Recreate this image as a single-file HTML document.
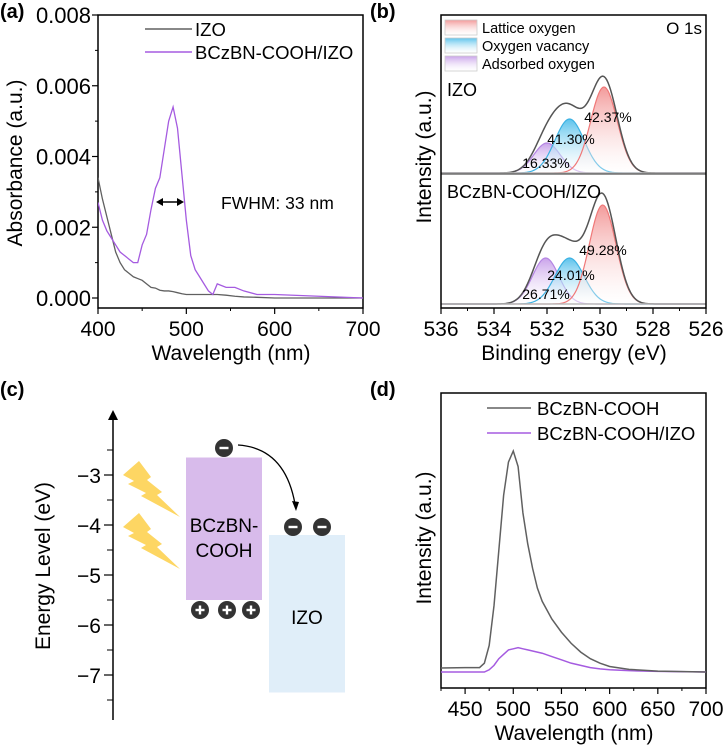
<!DOCTYPE html>
<html><head><meta charset="utf-8"><style>
html,body{margin:0;padding:0;background:#fff}
svg{display:block;font-family:"Liberation Sans",sans-serif}
</style></head><body>
<svg id="fig" width="727" height="749" viewBox="0 0 727 749" xmlns="http://www.w3.org/2000/svg">
<defs>
<linearGradient id="gL" x1="0" y1="0" x2="0" y2="1"><stop offset="0" stop-color="#f39a9a"/><stop offset="1" stop-color="#fff" stop-opacity="0.3"/></linearGradient>
<linearGradient id="gV" x1="0" y1="0" x2="0" y2="1"><stop offset="0" stop-color="#5cc3ec"/><stop offset="1" stop-color="#fff" stop-opacity="0.3"/></linearGradient>
<linearGradient id="gA" x1="0" y1="0" x2="0" y2="1"><stop offset="0" stop-color="#c9a2ea"/><stop offset="1" stop-color="#fff" stop-opacity="0.3"/></linearGradient>
</defs>
<g id="pa"></g>
<g id="pb"></g>
<g id="pc"></g>
<g id="pd"></g>
</svg>
<script>
// Panel a data
const aWl = [400,405,410,415,420,425,430,435,440,445,450,455,460,465,470,475,480,485,490,495,500,505,510,515,520,525,530,535,545,555,565,580,600,650,700];
const aIZO = [0.0034,0.0028,0.0023,0.0018,0.0013,0.0010,0.0008,0.0007,0.0006,0.00055,0.0005,0.0004,0.0003,0.00028,0.00022,0.0002,0.0002,0.00018,0.00015,0.00012,0.0001,0.0001,0.0001,0.0001,0.0001,0.0001,0.0001,0.0001,0.00008,0.00005,0.00003,0.00002,0.0,0.0,0.0];
const aBCz = [0.0027,0.0022,0.0019,0.0017,0.0015,0.0013,0.0012,0.0011,0.0010,0.0010,0.0015,0.0018,0.0025,0.0031,0.0034,0.0042,0.0050,0.0054,0.0048,0.0035,0.0022,0.0012,0.0008,0.0006,0.0004,0.0002,0.0001,0.0004,0.0003,0.0003,0.0002,0.0001,0.0001,0.00005,0.0];
const aYTicks = ["0.000","0.002","0.004","0.006","0.008"];
const aXTicks = [400,500,600,700];
// Panel b data (Gaussian fit component parameters)
const bComps = ["Lattice oxygen","Oxygen vacancy","Adsorbed oxygen"];
const bCenterIZO = [529.85,531.15,532.0];
const bHeightIZO = [86,54,30];
const bCenterBCz = [529.9,531.15,532.05];
const bHeightBCz = [99,46,46];
const bSigma = [0.5,0.55,0.5];
const bPctIZO = ["42.37%","41.30%","16.33%"];
const bPctBCz = ["49.28%","24.01%","26.71%"];
const bXTicks = [536,534,532,530,528,526];
// Panel c data
const cTicks = [-3,-4,-5,-6,-7];
const cBCz = [-2.65,-5.5];
const cIZO = [-4.2,-7.35];
// Panel d data
const dWl = [425,450,465,470,475,480,485,490,495,500,505,510,515,520,525,530,540,550,560,570,580,590,600,620,650,700];
const dBCz = [0.018,0.02,0.02,0.04,0.12,0.3,0.55,0.8,0.95,1.0,0.93,0.72,0.58,0.47,0.38,0.32,0.24,0.18,0.13,0.09,0.06,0.04,0.025,0.012,0.004,0.0];
const dBCzIZO = [0.0,0.0,0.0,0.0,0.01,0.03,0.06,0.08,0.1,0.105,0.11,0.105,0.1,0.095,0.09,0.085,0.07,0.055,0.04,0.03,0.02,0.014,0.01,0.006,0.003,0.0];
const dXTicks = [450,500,550,600,650,700];

const NS="http://www.w3.org/2000/svg";
const TK=21, TT=21;
function mk(parent,tag,attrs,text){const e=document.createElementNS(NS,tag);for(const k in attrs)e.setAttribute(k,attrs[k]);if(text!==undefined)e.textContent=text;parent.appendChild(e);return e;}

// ---------- Panel a ----------
(function(){
const g=document.getElementById('pa');
const L=98,R=363,T=15,B=308;
const x=v=>L+(v-400)*(R-L)/300;
const y=v=>298-v*(298-15)/0.008;
let t=mk(g,'text',{x:0,y:18,'font-size':20,'font-weight':'bold'},'(a)');

let fr=mk(g,'rect',{x:L,y:T,width:R-L,height:B-T,fill:'none',stroke:'#000','stroke-width':1.5});

aYTicks.forEach((s,i)=>{const v=i*0.002;mk(g,'line',{x1:L-6,x2:L,y1:y(v),y2:y(v),stroke:'#000','stroke-width':1.2});
 if(i<4)mk(g,'line',{x1:L-3,x2:L,y1:y(v+0.001),y2:y(v+0.001),stroke:'#000'});
 const tt=mk(g,'text',{x:L-7,y:y(v)+8,'font-size':22,'text-anchor':'end'},s);
 });
aXTicks.forEach((v,i)=>{mk(g,'line',{x1:x(v),x2:x(v),y1:B,y2:B+6,stroke:'#000','stroke-width':1.2});
 if(i<3)mk(g,'line',{x1:x(v+50),x2:x(v+50),y1:B,y2:B+3,stroke:'#000'});
 const tt=mk(g,'text',{x:x(v),y:B+28,'font-size':TK,'text-anchor':'middle'},String(v));
 });
t=mk(g,'text',{x:231,y:360,'font-size':TT,'text-anchor':'middle'},'Wavelength (nm)');

t=mk(g,'text',{x:0,y:0,'font-size':TT,'text-anchor':'middle',transform:'translate(22,163) rotate(-90)'},'Absorbance (a.u.)');

const cp=mk(g,'clipPath',{id:'ca'});mk(cp,'rect',{x:L,y:T,width:R-L,height:B-T});
let p=mk(g,'polyline',{points:aWl.map((w,i)=>x(w)+','+y(aIZO[i])).join(' '),fill:'none',stroke:'#606060','stroke-width':1.3,'clip-path':'url(#ca)'});

p=mk(g,'polyline',{points:aWl.map((w,i)=>x(w)+','+y(aBCz[i])).join(' '),fill:'none',stroke:'#a55be0','stroke-width':1.3,'clip-path':'url(#ca)'});

mk(g,'line',{x1:145,x2:192,y1:29,y2:29,stroke:'#606060','stroke-width':1.5});
t=mk(g,'text',{x:195,y:36,'font-size':18.5},'IZO');
mk(g,'line',{x1:145,x2:192,y1:52,y2:52,stroke:'#a55be0','stroke-width':1.5});
t=mk(g,'text',{x:195,y:59,'font-size':18.5},'BCzBN-COOH/IZO');
const ar=mk(g,'g',{});
mk(ar,'line',{x1:160,x2:180,y1:202,y2:202,stroke:'#000','stroke-width':1.5});
mk(ar,'polygon',{points:'156,202 163,198 163,206',fill:'#000'});
mk(ar,'polygon',{points:'184,202 177,198 177,206',fill:'#000'});
t=mk(g,'text',{x:221,y:209,'font-size':17.5},'FWHM: 33 nm');
})();

// ---------- Panel b ----------
(function(){
const g=document.getElementById('pb');
const L=441,R=706,T=15,B=308;
const x=v=>L+(536-v)*(R-L)/10;
let t=mk(g,'text',{x:370,y:18,'font-size':20,'font-weight':'bold'},'(b)');

const cols=['#f07878','#3db2e3','#b585e3'];const grads=['url(#gL)','url(#gV)','url(#gA)'];
function stack(base,centers,heights,pcts,pos,nm){
 const xs=[];for(let e=536;e>=526-1e-9;e-=0.05)xs.push(e);
 const comp=(i,e)=>heights[i]*Math.exp(-0.5*Math.pow((e-centers[i])/bSigma[i],2));
 [2,1,0].forEach(i=>{
  const pts=xs.map(e=>x(e)+','+(base-comp(i,e)));
  let p=mk(g,'polygon',{points:x(536)+','+base+' '+pts.join(' ')+' '+x(526)+','+base,fill:grads[i],stroke:'none'});
  
  p=mk(g,'polyline',{points:pts.join(' '),fill:'none',stroke:cols[i],'stroke-width':1.2});
  
 });
 const env=xs.map(e=>x(e)+','+(base-1.08*(comp(0,e)+comp(1,e)+comp(2,e))));
 let p=mk(g,'polyline',{points:env.join(' '),fill:'none',stroke:'#555','stroke-width':1.5});
 
 mk(g,'line',{x1:L,x2:R,y1:base,y2:base,stroke:'#bbb','stroke-width':1.5});
 pcts.forEach((s,i)=>{const tt=mk(g,'text',{x:pos[i][0],y:pos[i][1],'font-size':14,'text-anchor':'middle'},s);
  });
}
stack(173,bCenterIZO,bHeightIZO,bPctIZO,[[608,122],[571,144],[546,168]],'izo');
stack(304,bCenterBCz,bHeightBCz,bPctBCz,[[603,255],[571,280],[546,299]],'bczbn');
mk(g,'line',{x1:L,x2:R,y1:174,y2:174,stroke:'#555','stroke-width':1.2});
let fr=mk(g,'rect',{x:L,y:T,width:R-L,height:B-T,fill:'none',stroke:'#000','stroke-width':1.5});

bXTicks.forEach((v,i)=>{mk(g,'line',{x1:x(v),x2:x(v),y1:B,y2:B+6,stroke:'#000','stroke-width':1.2});
 if(i<5)mk(g,'line',{x1:x(v-1),x2:x(v-1),y1:B,y2:B+3,stroke:'#000'});
 const tt=mk(g,'text',{x:x(v),y:B+28,'font-size':TK,'text-anchor':'middle'},String(v));
 });
t=mk(g,'text',{x:574,y:360,'font-size':TT,'text-anchor':'middle'},'Binding energy (eV)');

t=mk(g,'text',{x:0,y:0,'font-size':TT,'text-anchor':'middle',transform:'translate(431,157) rotate(-90)'},'Intensity (a.u.)');

bComps.forEach((s,i)=>{const yy=20+i*18;
 let r=mk(g,'rect',{x:445,y:yy,width:32,height:15,fill:grads[i],stroke:'#ccc','stroke-width':0.8});
 
 const tt=mk(g,'text',{x:482,y:yy+13,'font-size':14.5},s);});
t=mk(g,'text',{x:702,y:34,'font-size':17,'text-anchor':'end'},'O 1s');
t=mk(g,'text',{x:447,y:96,'font-size':18},'IZO');
t=mk(g,'text',{x:447,y:198,'font-size':18},'BCzBN-COOH/IZO');
})();

// ---------- Panel c ----------
(function(){
const g=document.getElementById('pc');
const y=v=>475+(-3-v)*50;
let t=mk(g,'text',{x:0,y:396,'font-size':20,'font-weight':'bold'},'(c)');

let a=mk(g,'line',{x1:113,x2:113,y1:418,y2:720,stroke:'#000','stroke-width':1.5});

mk(g,'polygon',{points:'113,410 108,420 118,420',fill:'#000'});
cTicks.forEach(v=>{mk(g,'line',{x1:104,x2:113,y1:y(v),y2:y(v),stroke:'#000','stroke-width':1.2});
 mk(g,'line',{x1:107,x2:113,y1:y(v+0.5),y2:y(v+0.5),stroke:'#000'});
 const tt=mk(g,'text',{x:101,y:y(v)+8,'font-size':TK,'text-anchor':'end'},'\u2212'+Math.abs(v));
 });
mk(g,'line',{x1:107,x2:113,y1:y(-7.5),y2:y(-7.5),stroke:'#000'});
t=mk(g,'text',{x:0,y:0,'font-size':TT,'text-anchor':'middle',transform:'translate(50,566) rotate(-90)'},'Energy Level (eV)');

let r=mk(g,'rect',{x:186,y:y(cBCz[0]),width:76,height:y(cBCz[1])-y(cBCz[0]),fill:'#d8bbeb'});

r=mk(g,'rect',{x:269,y:y(cIZO[0]),width:76,height:y(cIZO[1])-y(cIZO[0]),fill:'#e0eef9'});

t=mk(g,'text',{x:224,y:532,'font-size':19,'text-anchor':'middle'},'BCzBN-');
mk(g,'text',{x:224,y:557,'font-size':19,'text-anchor':'middle'},'COOH');
t=mk(g,'text',{x:307,y:624,'font-size':19,'text-anchor':'middle'},'IZO');
[0,52].forEach(dy=>{const b=mk(g,'polygon',{points:[[123,475],[139,461],[151,477],[147,480],[162,492],[157,495],[180,517],[141,496],[146,493],[128,484],[134,481]].map(p=>p[0]+','+(p[1]+dy)).join(' '),fill:'#fdd663'});
 });
function charge(cx,cy,plus){const c=mk(g,'g',{});
 mk(c,'circle',{cx:cx,cy:cy,r:9,fill:'#333'});mk(c,'line',{x1:cx-4.5,x2:cx+4.5,y1:cy,y2:cy,stroke:'#fff','stroke-width':2.4});
 if(plus)mk(c,'line',{x1:cx,x2:cx,y1:cy-4.5,y2:cy+4.5,stroke:'#fff','stroke-width':2.4});}
charge(224,448,false);charge(293,527,false);charge(322,527,false);
charge(200,610,true);charge(227,610,true);charge(251,610,true);
const arr=mk(g,'path',{d:'M238,445 Q285,448 295,504',fill:'none',stroke:'#000','stroke-width':1.3});

mk(g,'polygon',{points:'296,511 292,501 299,502',fill:'#000'});
})();

// ---------- Panel d ----------
(function(){
const g=document.getElementById('pd');
const L=441,R=706,T=393,B=688;
const x=v=>L+(v-425)*(R-L)/275;
const y=v=>672-v*221;
let t=mk(g,'text',{x:370,y:396,'font-size':20,'font-weight':'bold'},'(d)');

let fr=mk(g,'rect',{x:L,y:T,width:R-L,height:B-T,fill:'none',stroke:'#000','stroke-width':1.5});

let p=mk(g,'polyline',{points:dWl.map((w,i)=>x(w)+','+(y(dBCzIZO[i]))).join(' '),fill:'none',stroke:'#a55be0','stroke-width':1.5});

p=mk(g,'polyline',{points:dWl.map((w,i)=>x(w)+','+(y(dBCz[i]))).join(' '),fill:'none',stroke:'#606060','stroke-width':1.5});

dXTicks.forEach(v=>{mk(g,'line',{x1:x(v),x2:x(v),y1:B,y2:B+6,stroke:'#000','stroke-width':1.2});
 mk(g,'line',{x1:x(v-25),x2:x(v-25),y1:B,y2:B+3,stroke:'#000'});
 const tt=mk(g,'text',{x:x(v),y:B+28,'font-size':TK,'text-anchor':'middle'},String(v));
 });
t=mk(g,'text',{x:574,y:740,'font-size':TT,'text-anchor':'middle'},'Wavelength (nm)');

t=mk(g,'text',{x:0,y:0,'font-size':TT,'text-anchor':'middle',transform:'translate(431,538) rotate(-90)'},'Intensity (a.u.)');

mk(g,'line',{x1:487,x2:531,y1:408,y2:408,stroke:'#606060','stroke-width':1.5});
t=mk(g,'text',{x:537,y:415,'font-size':18.5},'BCzBN-COOH');
mk(g,'line',{x1:487,x2:531,y1:433,y2:433,stroke:'#a55be0','stroke-width':1.5});
t=mk(g,'text',{x:537,y:440,'font-size':18.5},'BCzBN-COOH/IZO');
})();
</script>
</body></html>
